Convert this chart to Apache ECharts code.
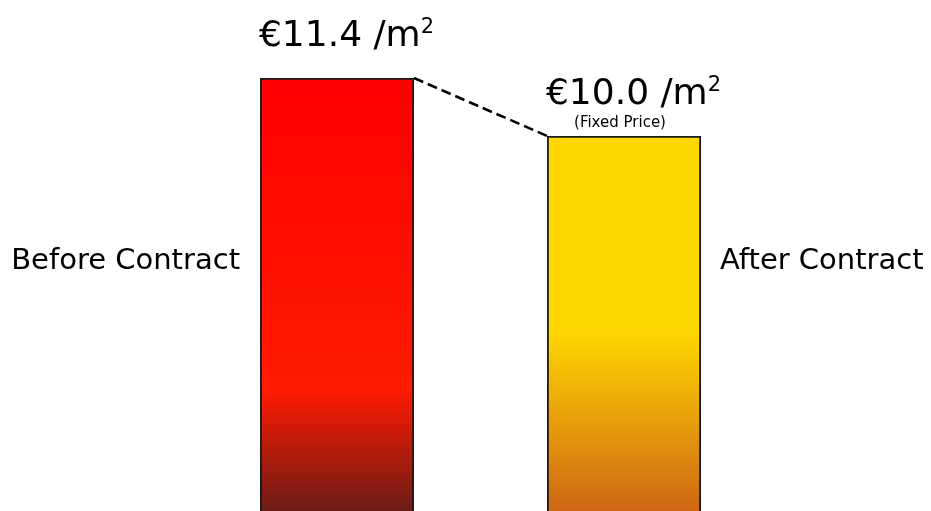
<!DOCTYPE html>
<html>
<head>
<meta charset="utf-8">
<title>Price per m2 before / after contract</title>
<script src="https://cdn.jsdelivr.net/npm/echarts@6/dist/echarts.min.js"></script>
<style>
  html, body { margin: 0; padding: 0; background: #fff; }
  #chart { width: 931px; height: 511px; }
</style>
</head>
<body>
<div id="chart"></div>
<script>
// data
var categories = ['Before Contract', 'After Contract'];
var prices = [11.4, 10.0];
var priceNotes = ['', '(Fixed Price)'];

var FONT = 'DejaVu Sans';
var barFrac = 154 / 287; // bar width as part of the category band

var chart = echarts.init(document.getElementById('chart'));

// gradients for the two bars (bars run from 0, past the bottom of the picture)
var fills = [
  new echarts.graphic.LinearGradient(0, 0, 0, 1, [
    { offset: 0, color: '#ff0000' },
    { offset: 0.66, color: '#ff1a00' },
    { offset: 0.917, color: '#6b1c16' },
    { offset: 1, color: '#4c1b17' }
  ]),
  new echarts.graphic.LinearGradient(0, 0, 0, 1, [
    { offset: 0, color: '#ffd700' },
    { offset: 0.47, color: '#ffd700' },
    { offset: 0.906, color: '#cf6614' },
    { offset: 1, color: '#c45a16' }
  ])
];

// category labels sit left of first bar, right of the second
var nameLabels = [
  { position: 'left', distance: 20, offset: [0, -52.5] },
  { position: 'right', distance: 19, offset: [0, -81.5] }
];

var barData = prices.map(function (v, i) {
  return { value: v, itemStyle: { color: fills[i] } };
});
var nameData = prices.map(function (v, i) {
  return { value: v, label: nameLabels[i] };
});

// dashed link from top-right corner of bar 1 to top-left corner of bar 2
var edge = barFrac / 2;
var linkData = [[0 + edge, prices[0]], [1 - edge, prices[1]]];

var option = {
  animation: false,
  grid: { left: 193.5, width: 574, top: 78, bottom: 0 },
  xAxis: [
    { type: 'category', data: categories, show: false },
    { type: 'value', min: -0.5, max: 1.5, show: false }
  ],
  // axis starts a bit above zero so the bars leave the picture at the bottom
  yAxis: { type: 'value', min: 0.95, max: 11.4, show: false },
  series: [
    {
      name: 'price',
      type: 'bar',
      data: barData,
      barWidth: (barFrac * 100) + '%',
      barGap: '-100%',
      clip: false,
      itemStyle: { borderColor: '#1a1a1a', borderWidth: 1.8 },
      label: {
        show: true,
        position: 'top',
        distance: 5,
        offset: [9.5, 0],
        color: '#000',
        fontFamily: FONT,
        formatter: function (p) {
          return '{v|€' + p.value.toFixed(1) + ' /m}{s|2}\n{f|' + (priceNotes[p.dataIndex] || ' ') + '}';
        },
        rich: {
          v: { fontFamily: FONT, fontSize: 36, lineHeight: 40, color: '#000' },
          s: { fontFamily: FONT, fontSize: 21, lineHeight: 16, verticalAlign: 'top', color: '#000' },
          f: { fontFamily: FONT, fontSize: 15, lineHeight: 16, color: '#000', padding: [0, 27, 0, 0] }
        }
      }
    },
    {
      name: 'names',
      type: 'bar',
      data: nameData,
      barWidth: (barFrac * 100) + '%',
      silent: true,
      clip: false,
      itemStyle: { color: 'rgba(0,0,0,0)' },
      label: {
        show: true,
        color: '#000',
        fontFamily: FONT,
        fontSize: 29,
        formatter: function (p) { return categories[p.dataIndex]; }
      }
    },
    {
      name: 'link',
      type: 'line',
      xAxisIndex: 1,
      data: linkData,
      symbol: 'none',
      silent: true,
      lineStyle: { color: '#000', width: 2.5, type: [10, 5] },
      z: 5
    }
  ]
};

chart.setOption(option);
</script>
</body>
</html>
